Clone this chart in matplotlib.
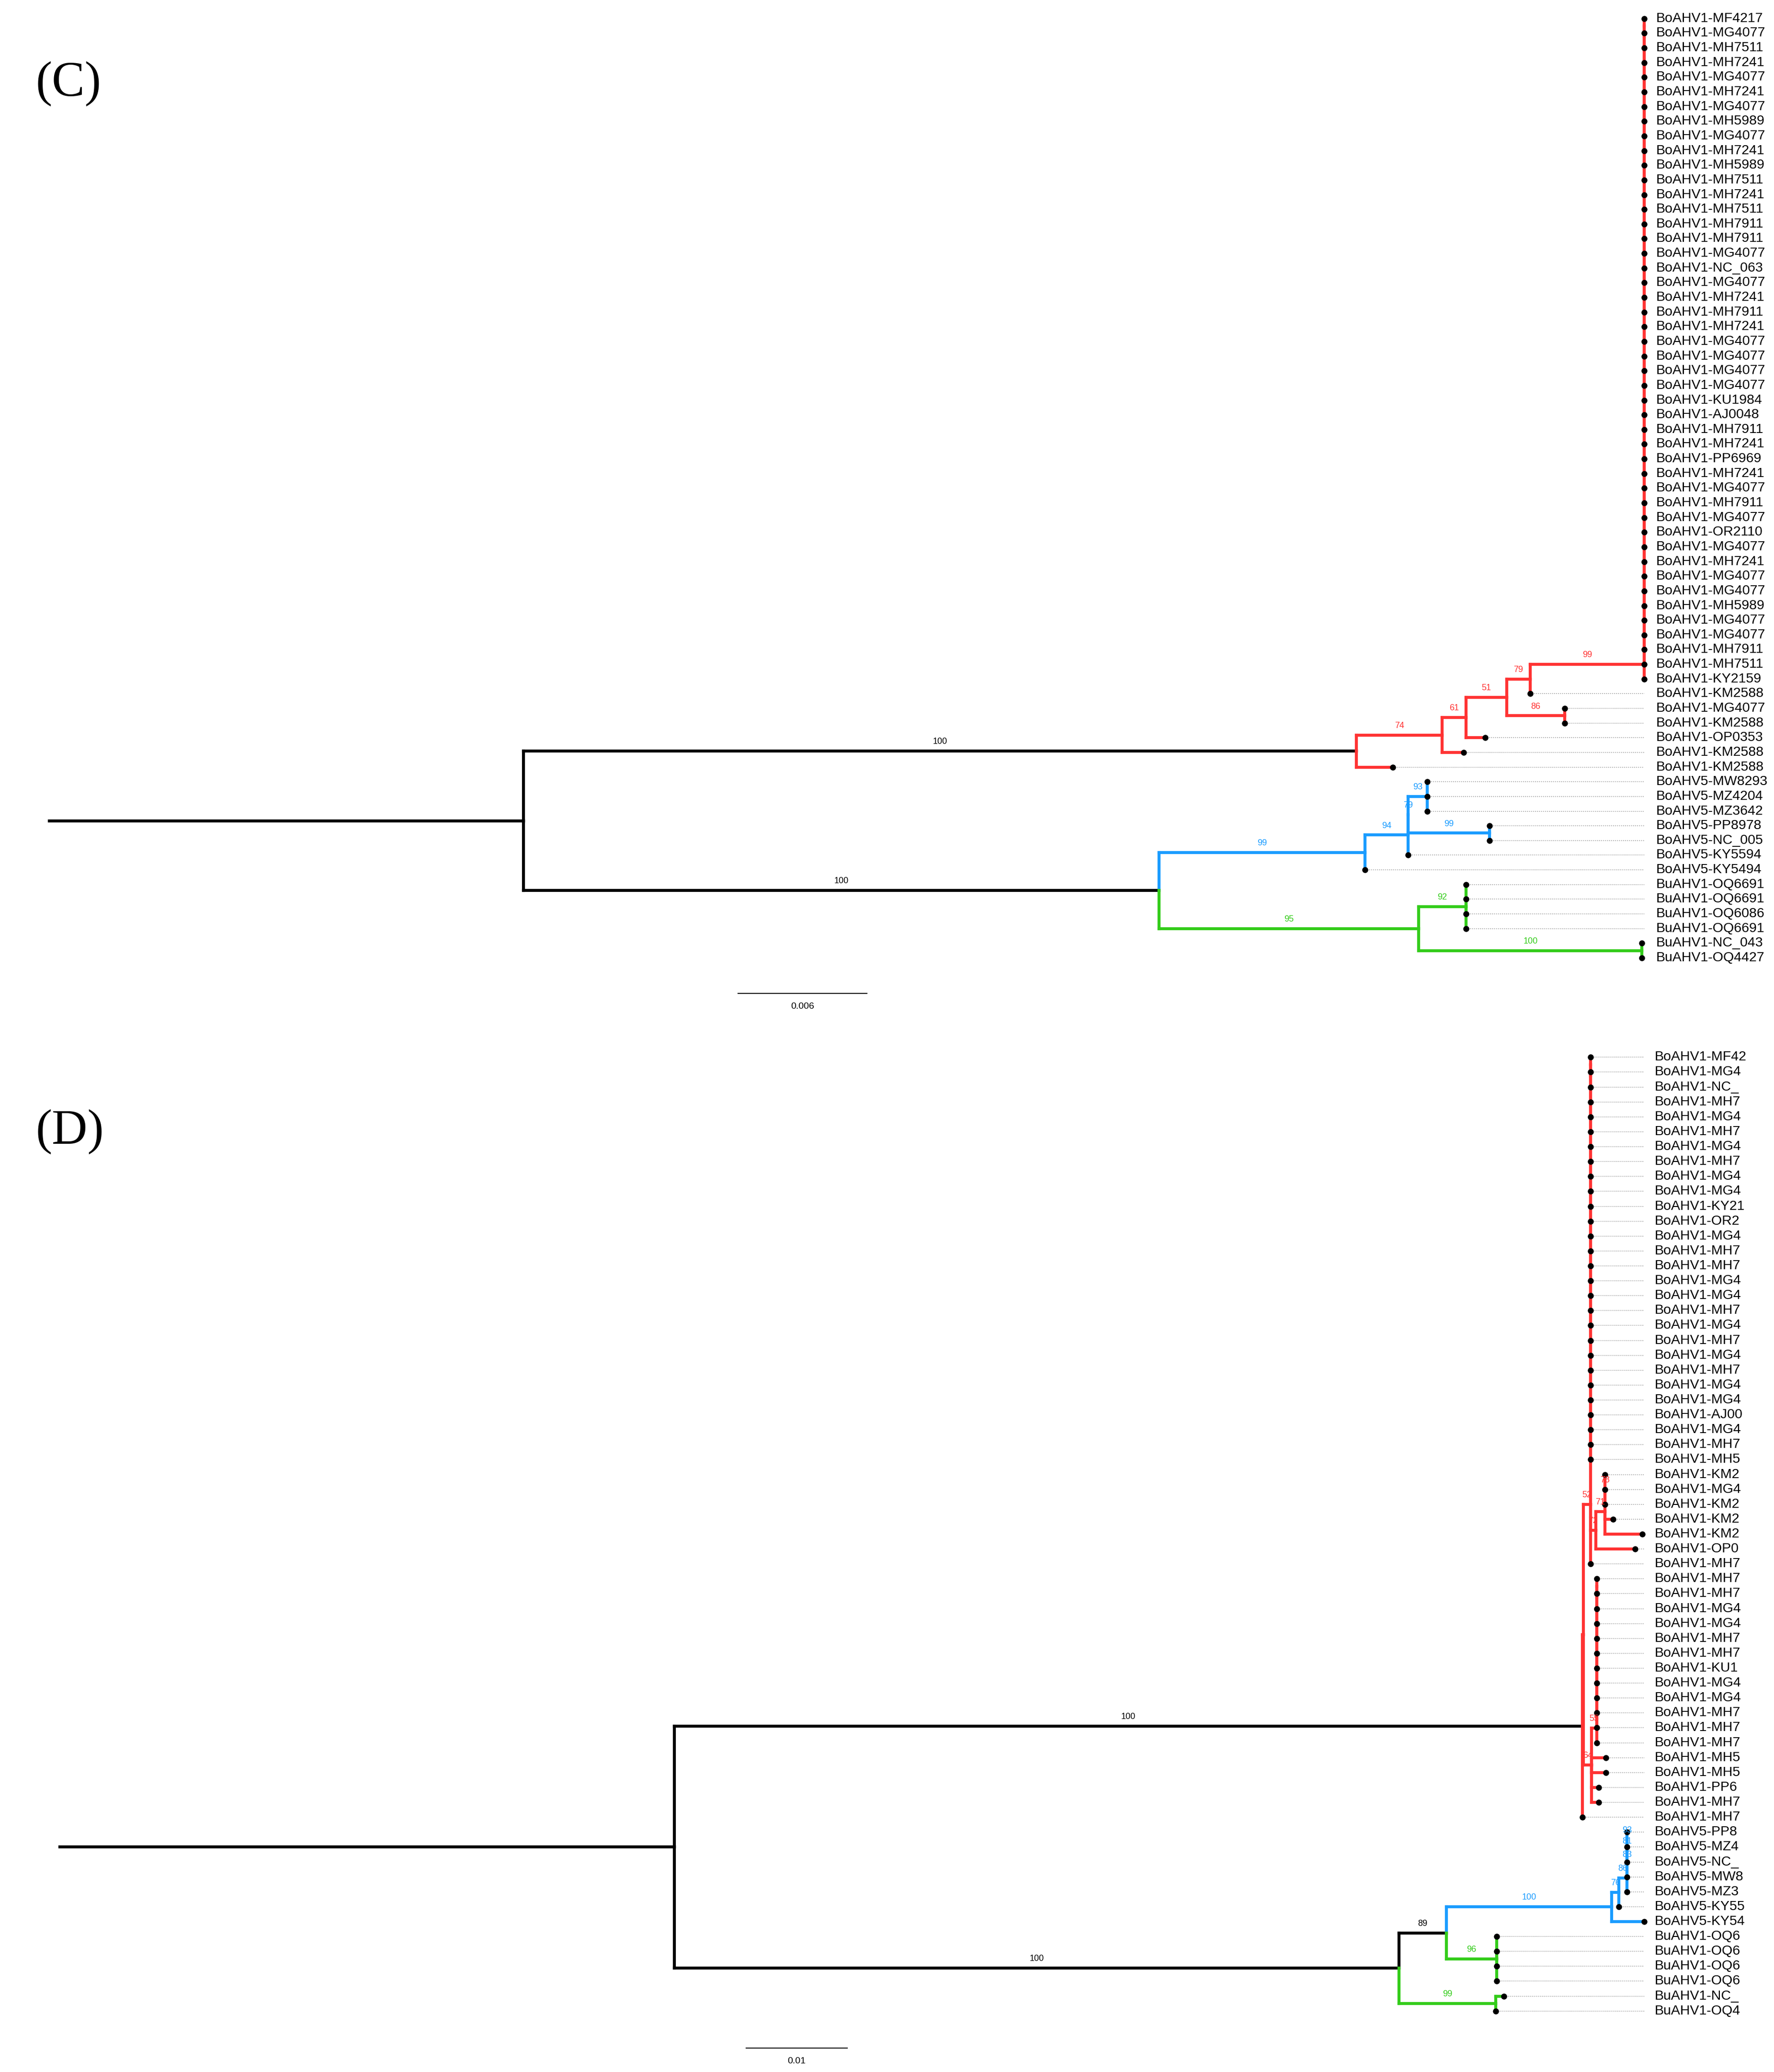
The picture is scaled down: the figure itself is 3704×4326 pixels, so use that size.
import matplotlib
matplotlib.use("Agg")
import matplotlib.pyplot as plt

# ---------------- data ----------------
# (C) leaf names, top to bottom
c_core = ["MF4217", "MG4077", "MH7511", "MH7241", "MG4077", "MH7241", "MG4077", "MH5989",
          "MG4077", "MH7241", "MH5989", "MH7511", "MH7241", "MH7511", "MH7911", "MH7911",
          "MG4077", "NC_063", "MG4077", "MH7241", "MH7911", "MH7241", "MG4077", "MG4077",
          "MG4077", "MG4077", "KU1984", "AJ0048", "MH7911", "MH7241", "PP6969", "MH7241",
          "MG4077", "MH7911", "MG4077", "OR2110", "MG4077", "MH7241", "MG4077", "MG4077",
          "MH5989", "MG4077", "MG4077", "MH7911", "MH7511", "KY2159"]
c_red_rest = ["KM2588", "MG4077", "KM2588", "OP0353", "KM2588", "KM2588"]
c_blue = ["MW8293", "MZ4204", "MZ3642", "PP8978", "NC_005", "KY5594", "KY5494"]
c_green = ["OQ6691", "OQ6691", "OQ6086", "OQ6691", "NC_043", "OQ4427"]

# (D) leaf names, top to bottom
d_core = ["MF42", "MG4", "NC_", "MH7", "MG4", "MH7", "MG4", "MH7", "MG4", "MG4", "KY21",
          "OR2", "MG4", "MH7", "MH7", "MG4", "MG4", "MH7", "MG4", "MH7", "MG4", "MH7",
          "MG4", "MG4", "AJ00", "MG4", "MH7", "MH5"]
d_km = ["KM2", "MG4", "KM2", "KM2", "KM2", "OP0"]
d_sub = ["MH7", "MH7", "MG4", "MG4", "MH7", "MH7", "KU1", "MG4", "MG4", "MH7", "MH7", "MH7"]
d_sub_rest = ["MH5", "MH5", "PP6", "MH7"]
d_blue = ["PP8", "MZ4", "NC_", "MW8", "MZ3", "KY55", "KY54"]
d_green = ["OQ6", "OQ6", "OQ6", "OQ6", "NC_", "OQ4"]

COLORS = {"r": "#ff3333", "b": "#1a9cff", "g": "#33cc1a", "k": "black"}


def nm(prefix, s):
    return prefix + s


def comb(names):
    # zero-length ladder, as the tree program draws a polytomy
    s = names[0]
    for n in names[1:]:
        s = f"({s}:0,{n}:0)"
    return s


B1, B5, BU = "BoAHV1-", "BoAHV5-", "BuAHV1-"

# ---- tree C (branch lengths in substitutions/site) ----
cc = [nm(B1, x) for x in c_core]
r = [nm(B1, x) for x in c_red_rest]
n657 = f"({comb(cc[:-1])}:0,{cc[-1]}:0)99:0.0053"
n657 = f"({n657},{r[0]}:0)79"
n778 = f"({r[1]}:0,{r[2]}:0)86"
n575 = f"({n657}:0.0011,{n778}:0.0027)51"
n435 = f"({n575}:0.0019,{r[3]}:0.0009)61"
n352 = f"({n435}:0.0011,{r[4]}:0.0010)74"
c_red = f"({n352}:0.0040,{r[5]}:0.0017)100#*r"
b = [nm(B5, x) for x in c_blue]
c_bl = (f"(((({b[0]}:0,{b[1]}:0,{b[2]}:0)93:0.0009,({b[3]}:0,{b[4]}:0)99:0.0038)79:0,"
        f"{b[5]}:0)94:0.0020,{b[6]}:0)99#b")
g = [nm(BU, x) for x in c_green]
c_gr = f"(({g[0]}:0,{g[1]}:0,{g[2]}:0,{g[3]}:0)92:0.0022,({g[4]}:0,{g[5]}:0)100:0.0104)95#g"
tree_c = f"({c_red}:0.0388,({c_bl}:0.0096,{c_gr}:0.0121)100#k:0.0296)#k:0.0221"

# ---- tree D ----
dc = [nm(B1, x) for x in d_core]
dk = [nm(B1, x) for x in d_km]
ds = [nm(B1, x) for x in d_sub]
dr = [nm(B1, x) for x in d_sub_rest]
km = (f"((({dk[0]}:0,{dk[1]}:0,{dk[2]}:0)78:0,{dk[3]}:0.0008,{dk[4]}:0.0037)71:0.0009,"
      f"{dk[5]}:0.0039)72")
sub = (f"(({comb(ds)}:0)55:0.0005,{dr[0]}:0.0014,{dr[1]}:0.0014,{dr[2]}:0.0007,"
       f"{dr[3]}:0.0007)64")
d_a = comb(dc) + "," + f"{km}:0.0005,{nm(B1, 'MH7')}:0"
d_red = f"((({d_a})52:0.0007,{sub}:0.0008):0.0001,{nm(B1, 'MH7')}:0)100#*r"
db = [nm(B5, x) for x in d_blue]
d_bl = (f"(((((({db[0]}:0,{db[1]}:0)93:0,{db[2]}:0)81:0,{db[3]}:0)83:0,{db[4]}:0)86:0.0008,"
        f"{db[5]}:0)76:0.0007,{db[6]}:0.0032)100#b")
dg = [nm(BU, x) for x in d_green]
d_g96 = f"({dg[0]}:0,{dg[1]}:0,{dg[2]}:0,{dg[3]}:0)96#g"
d_g99 = f"({dg[4]}:0.0008,{dg[5]}:0)99#g"
tree_d = (f"({d_red}:0.0900,(({d_bl}:0.0164,{d_g96}:0.0050)89#k:0.0047,"
          f"{d_g99}:0.0096)100#k:0.0718)#k:0.0609")


# ---------------- newick parsing / layout ----------------
def parse(s):
    pos = [0]

    def node():
        n = {"children": [], "label": "", "length": 0.0}
        if s[pos[0]] == "(":
            pos[0] += 1
            while True:
                n["children"].append(node())
                c = s[pos[0]]
                pos[0] += 1
                if c == ")":
                    break
        start = pos[0]
        while pos[0] < len(s) and s[pos[0]] not in ",():;":
            pos[0] += 1
        n["label"] = s[start:pos[0]]
        if pos[0] < len(s) and s[pos[0]] == ":":
            pos[0] += 1
            start = pos[0]
            while pos[0] < len(s) and s[pos[0]] not in ",();":
                pos[0] += 1
            n["length"] = float(s[start:pos[0]])
        return n

    return node()


def layout(n, x0, rows):
    n["x0"] = x0
    n["x"] = x0 + n["length"]
    if n["children"]:
        for c in n["children"]:
            layout(c, n["x"], rows)
        n["y"] = (n["children"][0]["y"] + n["children"][-1]["y"]) / 2
    else:
        n["y"] = len(rows)
        rows.append(n)


def draw(ax, n, pcol, lw, sfs):
    lab = n["label"]
    sup, col, stem = "", pcol, pcol
    if n["children"]:
        if "#" in lab:
            sup, code = lab.split("#")
            if code.startswith("*"):
                col = COLORS[code[1:]]
            else:
                col = stem = COLORS[code]
        else:
            sup = lab
    n["stem"] = stem
    ax.plot([n["x0"], n["x"]], [n["y"], n["y"]], color=stem, lw=lw,
            solid_capstyle="projecting", zorder=2)
    if sup:
        ax.text((n["x0"] + n["x"]) / 2, n["y"] - 0.35, sup, color=stem, fontsize=sfs,
                ha="center", va="bottom", family="Liberation Sans", zorder=4)
    if n["children"]:
        for c in n["children"]:
            draw(ax, c, col, lw, sfs)
            ax.plot([n["x"], n["x"]], [n["y"], c["y"]], color=c["stem"], lw=lw,
                    solid_capstyle="projecting", zorder=2)


def plot_tree(ax, newick, scale_x, scale_len, scale_row, lab_dx):
    root = parse(newick)
    rows = []
    layout(root, 0.0, rows)
    xmax = max(l["x"] for l in rows)
    draw(ax, root, "black", 4.5, 13)
    for l in rows:
        ax.plot([l["x"], xmax], [l["y"], l["y"]], color="#999999", lw=1.2,
                ls=(0, (1, 1.5)), zorder=1)
        ax.plot(l["x"], l["y"], "o", color="black", ms=8, zorder=3)
        ax.text(xmax + lab_dx, l["y"], l["label"], fontsize=20.5, va="center", ha="left",
                family="Liberation Sans", clip_on=True)
    ax.plot([scale_x, scale_x + scale_len], [scale_row, scale_row], color="black", lw=1.5)
    ax.text(scale_x + scale_len / 2, scale_row + 0.6, f"{scale_len:g}", fontsize=14,
            ha="center", va="top", family="Liberation Sans")


W, H = 1336.0, 1560.0
fig = plt.figure(figsize=(37.04, 43.26), dpi=100)

# panel C
axc = fig.add_axes([0, 0.5, 1, 0.5])
ppu_c = 97 / 0.006
axc.set_xlim(-37 / ppu_c, (W - 37) / ppu_c)
axc.set_ylim((780 - 14) / 11.05, -14 / 11.05)
axc.axis("off")
plot_tree(axc, tree_c, (556 - 37) / ppu_c, 0.006, (748 - 14) / 11.05, 9 / ppu_c)

# panel D
axd = fig.add_axes([0, 0, 1318 / W, 0.5])
ppu_d = 76 / 0.01
axd.set_xlim(-45 / ppu_d, (1318 - 45) / ppu_d)
axd.set_ylim((1560 - 796) / 11.22, (780 - 796) / 11.22)
axd.axis("off")
plot_tree(axd, tree_d, (562 - 45) / ppu_d, 0.01, (1542 - 796) / 11.22, 8 / ppu_d)

fig.text(27 / W, 1 - 63 / H, "(C)", fontsize=74, family="Liberation Serif", va="center")
fig.text(27 / W, 1 - 852 / H, "(D)", fontsize=74, family="Liberation Serif", va="center")

fig.savefig("out.png", dpi=100, facecolor="white")
